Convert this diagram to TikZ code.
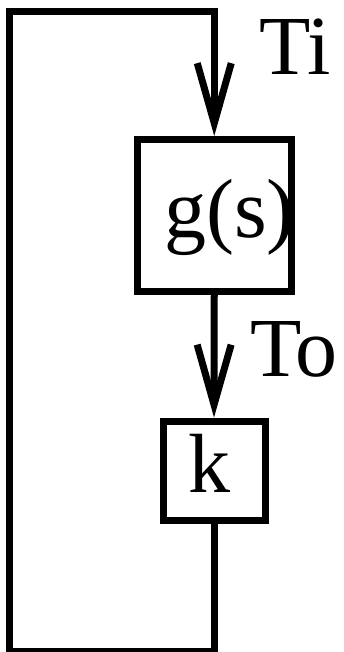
\documentclass[tikz,border=0pt]{standalone}
\usepackage{fontspec}
\setmainfont{Liberation Serif}
\usetikzlibrary{arrows.meta}

\tikzset{
  block/.style={draw, line width=7pt, inner sep=0pt},
  txt/.style={inner sep=0pt, anchor=base west, font=\fontsize{84}{94}\selectfont},
  flow/.style={line width=7pt, -{Straight Barb[length=60pt,width=34pt]}}
}

\begin{document}
\begin{tikzpicture}[x=1pt,y=-1pt]
   \useasboundingbox (0,0) rectangle (343,652);
   \node[block, minimum width=153.5pt, minimum height=151.5pt] (g) at (214.25,215.25) {};
   \node[block, minimum width=102pt, minimum height=99pt] (k) at (214,470.5) {};
   \coordinate (bl) at (9,651);
   \coordinate (tl) at (9,11.7);
   \node[txt] (gs) at (164,237) {g(s)};
   \node[txt] (kt) at (188,492) {k};
   \node[txt] (ti) at (259,75) {Ti};
   \node[txt] (to) at (250,376) {To};
   \draw[flow] (k.south) |- (bl) -- (tl) -| (g.north);
   \draw[flow] (g.south) -- (k.north);
\end{tikzpicture}
\end{document}
